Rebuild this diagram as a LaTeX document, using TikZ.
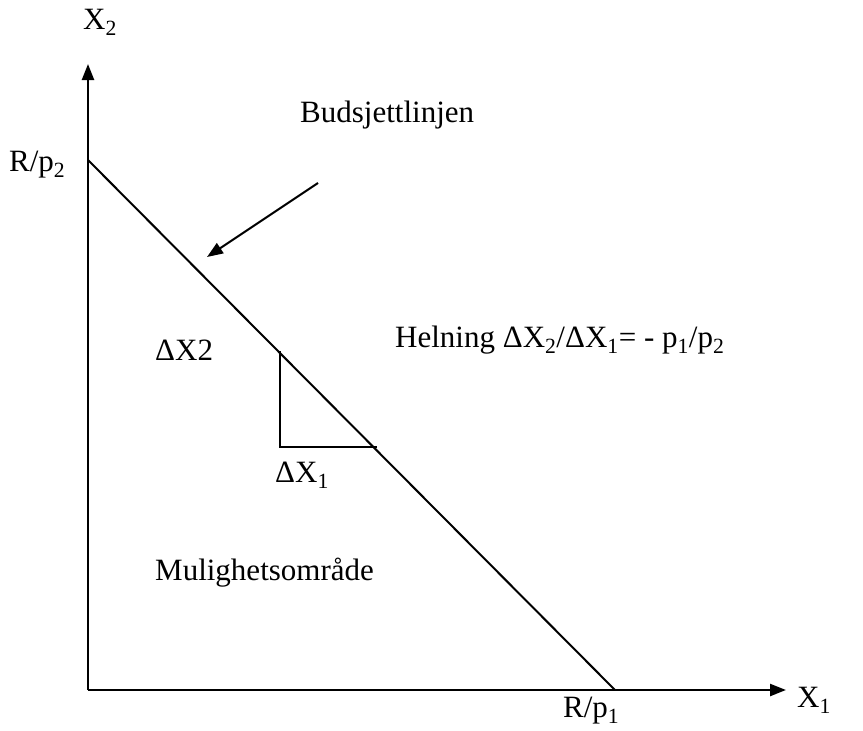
\documentclass[tikz,border=0pt]{standalone}
\usepackage{fontspec}
\setmainfont{Liberation Serif}
\usetikzlibrary{arrows.meta}
\begin{document}
\begin{tikzpicture}[x=1pt,y=-1pt,
  lbl/.style={font=\fontsize{31}{36}\selectfont, inner sep=0pt, anchor=west},
  axis/.style={line width=2.4pt,-{Triangle[length=16pt,width=12pt]}},
  ln/.style={line width=2pt},
  pointer/.style={line width=2pt,-{Triangle[length=16pt,width=12pt]}}]
\useasboundingbox (0,0) rectangle (863,731);
\coordinate (O) at (88,690);
\coordinate (ytip) at (88,64);
\coordinate (xtip) at (786,690);
\coordinate (A) at (88,160);
\coordinate (B) at (615,690);
\coordinate (t1) at (280,351);
\coordinate (t2) at (280,447);
\coordinate (t3) at (377,447);
\coordinate (pstart) at (318,183);
\coordinate (ptip) at (207,257);
\draw[axis] (O) -- (ytip);
\draw[axis] (O) -- (xtip);
\draw[ln] (A) -- (B);
\draw[ln] (t1) -- (t2) -- (t3);
\draw[pointer] (pstart) -- (ptip);
\node[lbl] (x2) at (83,22) {X\textsubscript{2}};
\node[lbl] (rp2) at (9,165) {R/p\textsubscript{2}};
\node[lbl] (bud) at (300,115) {Budsjettlinjen};
\node[lbl] (hel) at (395,340) {Helning ΔX\textsubscript{2}/ΔX\textsubscript{1}= - p\textsubscript{1}/p\textsubscript{2}};
\node[lbl] (dx2) at (155,350) {ΔX2};
\node[lbl] (dx1) at (275,475) {ΔX\textsubscript{1}};
\node[lbl] (mul) at (155,573) {Mulighetsområde};
\node[lbl] (x1) at (797,700) {X\textsubscript{1}};
\node[lbl] (rp1) at (563,711) {R/p\textsubscript{1}};
\end{tikzpicture}
\end{document}
